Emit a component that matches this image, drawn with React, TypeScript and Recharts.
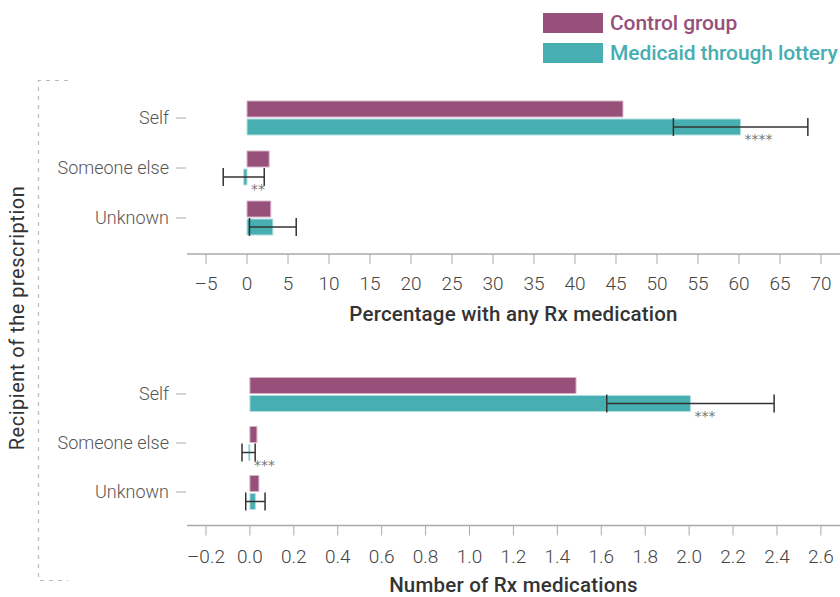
import React from "react";
import {
  BarChart,
  Bar,
  XAxis,
  YAxis,
  ErrorBar,
  LabelList,
} from "recharts";

const recipients = ["Self", "Someone else", "Unknown"];
const seriesNames = ["Control group", "Medicaid through lottery"];

// Percentage with any Rx medication
const pctControl = [45.85, 2.7, 2.9];
const pctMedicaid = [60.2, -0.4, 3.15];
const pctMedicaidErr = [8.2, 2.5, 2.85];
const pctStars = ["****", "**", ""];
const pctTicks = [-5, 0, 5, 10, 15, 20, 25, 30, 35, 40, 45, 50, 55, 60, 65, 70];

// Number of Rx medications
const numControl = [1.485, 0.032, 0.041];
const numMedicaid = [2.006, -0.006, 0.025];
const numMedicaidErr = [0.381, 0.03, 0.044];
const numStars = ["***", "***", ""];
const numTicks = [-0.2, 0, 0.2, 0.4, 0.6, 0.8, 1.0, 1.2, 1.4, 1.6, 1.8, 2.0, 2.2, 2.4, 2.6];

const CONTROL = "#97507a";
const MEDICAID = "#47aeb1";
const FONT = "Roboto, 'Noto Sans', sans-serif";

const pctData = recipients.map((name, i) => ({
  name,
  control: pctControl[i],
  medicaid: pctMedicaid[i],
  err: pctMedicaidErr[i],
  stars: pctStars[i],
}));

const numData = recipients.map((name, i) => ({
  name,
  control: numControl[i],
  medicaid: numMedicaid[i],
  err: numMedicaidErr[i],
  stars: numStars[i],
}));

const CategoryTick = (props: any) => {
  const { x, y, payload } = props;
  return (
    <g>
      <line x1={x - 11} x2={x - 1} y1={y} y2={y} stroke="#aaa" strokeWidth={1} />
      <text
        x={x - 18}
        y={y}
        dy="0.35em"
        textAnchor="end"
        fontFamily={FONT}
        fontWeight={300}
        fontSize={18}
        fill="#555"
      >
        {payload.value}
      </text>
    </g>
  );
};

const Stars = (props: any) => {
  const { x, y, width, height, value } = props;
  if (!value) return null;
  const right = Math.max(x, x + width);
  return (
    <text
      x={right + 4}
      y={y + height + 9}
      fontFamily="'DejaVu Sans', sans-serif"
      fontSize={14}
      fill="#777"
    >
      {value}
    </text>
  );
};

const fmtNum = (v: number) => (v < 0 ? "\u2013" : "") + Math.abs(v).toFixed(1);
const fmtPct = (v: number) => (v < 0 ? "\u2013" : "") + Math.abs(v);

function Panel(props: {
  data: any[];
  height: number;
  top: number;
  plotHeight: number;
  padBottom: number;
  domain: [number, number];
  ticks: number[];
  fmt: (v: number) => string;
  title: string;
  tickMargin: number;
  titleOffset: number;
}) {
  const { data, height, top, plotHeight, padBottom, domain, ticks, fmt, title, tickMargin, titleOffset } = props;
  return (
    <BarChart
      width={840}
      height={height}
      data={data}
      layout="vertical"
      margin={{ top, right: 0, bottom: 0, left: 0 }}
      barSize={16}
      barGap={2}
    >
      <XAxis
        type="number"
        domain={domain}
        ticks={ticks}
        allowDataOverflow
        interval={0}
        height={height - top - plotHeight}
        tickFormatter={fmt}
        tick={{ fontSize: 19, fill: "#444", fontFamily: FONT, fontWeight: 300 }}
        tickSize={10}
        tickMargin={tickMargin}
        tickLine={{ stroke: "#aaa" }}
        axisLine={{ stroke: "#aaa", strokeWidth: 1.5 }}
        label={{
          value: title,
          position: "insideBottom",
          offset: titleOffset,
          fontSize: 20.5,
          fontWeight: 500,
          fill: "#333",
          fontFamily: FONT,
          letterSpacing: 0.2,
        }}
      />
      <YAxis
        type="category"
        dataKey="name"
        width={187}
        axisLine={false}
        tickLine={false}
        tickSize={0}
        tickMargin={0}
        padding={{ top: 0, bottom: padBottom }}
        tick={<CategoryTick />}
        interval={0}
      />
      <Bar
        dataKey="control"
        name={seriesNames[0]}
        fill={CONTROL}
        stroke="#d7b3c8"
        strokeWidth={1}
        isAnimationActive={false}
      />
      <Bar
        dataKey="medicaid"
        name={seriesNames[1]}
        fill={MEDICAID}
        stroke="#b4e0e1"
        strokeWidth={1}
        isAnimationActive={false}
      >
        <ErrorBar dataKey="err" direction="x" width={9} stroke="#333" strokeWidth={1.5} />
        <LabelList dataKey="stars" content={<Stars />} />
      </Bar>
    </BarChart>
  );
}

export default function App() {
  return (
    <div
      style={{
        position: "absolute",
        left: 0,
        top: 0,
        width: 840,
        height: 597,
        background: "#fff",
        fontFamily: FONT,
        overflow: "hidden",
      }}
    >
      <div style={{ position: "absolute", left: 0, top: 0 }}>
        <Panel
          data={pctData}
          height={330}
          top={93}
          plotHeight={161}
          padBottom={11}
          domain={[-7.32, 72.32]}
          ticks={pctTicks}
          fmt={fmtPct}
          title="Percentage with any Rx medication"
          tickMargin={13}
          titleOffset={9}
        />
      </div>
      <div style={{ position: "absolute", left: 0, top: 330 }}>
        <Panel
          data={numData}
          height={267}
          top={39.5}
          plotHeight={156}
          padBottom={9}
          domain={[-0.2864, 2.687]}
          ticks={numTicks}
          fmt={fmtNum}
          title="Number of Rx medications"
          tickMargin={14}
          titleOffset={5}
        />
      </div>

      {/* legend */}
      {seriesNames.map((s, i) => (
        <div key={s} style={{ position: "absolute", left: 543, top: 12 + i * 30, height: 21, display: "flex", alignItems: "center" }}>
          <div style={{ width: 60, height: 20, background: i === 0 ? CONTROL : MEDICAID }} />
          <span
            style={{
              marginLeft: 7,
              fontSize: 21,
              fontWeight: 500,
              color: i === 0 ? CONTROL : MEDICAID,
              letterSpacing: -0.1,
              whiteSpace: "nowrap",
            }}
          >
            {s}
          </span>
        </div>
      ))}

      {/* left bracket and shared y title */}
      <svg width={90} height={597} style={{ position: "absolute", left: 0, top: 0 }}>
        <path d="M68 80.5 H38.5 V580.5 H68" fill="none" stroke="#bbb" strokeWidth={1.2} strokeDasharray="4 5" />
        <text
          transform="translate(24 318) rotate(-90)"
          textAnchor="middle"
          fontFamily={FONT}
          fontSize={20}
          fontWeight={400}
          fill="#333"
          letterSpacing={0.5}
        >
          Recipient of the prescription
        </text>
      </svg>
    </div>
  );
}
